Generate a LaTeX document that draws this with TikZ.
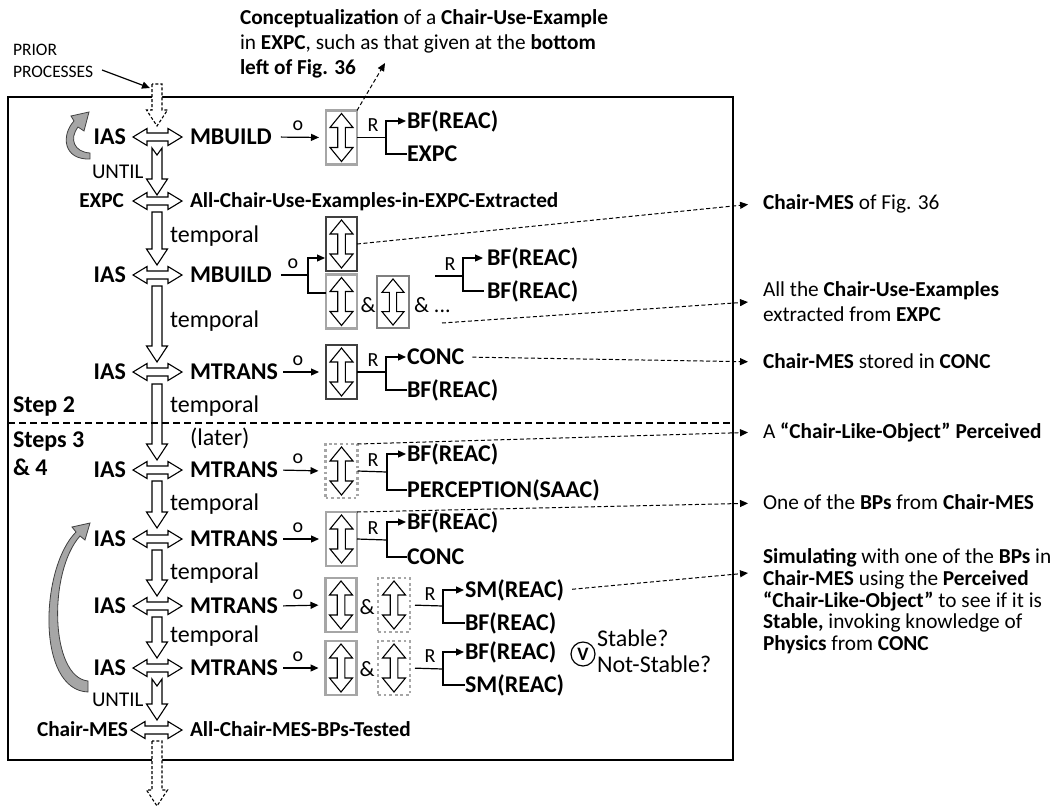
\documentclass[tikz,border=0pt]{standalone}
\usepackage{fontspec}
\setmainfont{Carlito}
\usetikzlibrary{arrows.meta,calc}
\definecolor{boxlight}{HTML}{A6A6A6}
\definecolor{boxdark}{HTML}{404040}
\definecolor{boxmid}{HTML}{7F7F7F}
\definecolor{curvefill}{HTML}{A6A6A6}
% horizontal double hollow arrow: x1, x2, y
\newcommand\hdarr[3]{\draw[hollow] (#1,#3) -- ({#1+14},{#3-8.5}) -- ({#1+14},{#3-4}) -- ({#2-14},{#3-4}) -- ({#2-14},{#3-8.5}) -- (#2,#3) -- ({#2-14},{#3+8.5}) -- ({#2-14},{#3+4}) -- ({#1+14},{#3+4}) -- ({#1+14},{#3+8.5}) -- cycle;}
% vertical hollow arrow: style, x, ytail, ytip
\newcommand\vsarr[4]{\draw[#1] ({#2-5},#3) -- ({#2-5},{#4-16}) -- ({#2-10.5},{#4-16}) -- (#2,#4) -- ({#2+10.5},{#4-16}) -- ({#2+5},{#4-16}) -- ({#2+5},#3) -- cycle;}
% notched vertical hollow arrow: x, ytail, ytip
\newcommand\vnarr[3]{\draw[hollow] ({#1-5},#2) -- ({#1-5},{#3-16}) -- ({#1-10.5},{#3-16}) -- (#1,#3) -- ({#1+10.5},{#3-16}) -- ({#1+5},{#3-16}) -- ({#1+5},#2) -- (#1,{#2+7}) -- cycle;}
\begin{document}
\begin{tikzpicture}[x=1pt,y=-1pt,
  every node/.style={inner sep=0pt,outer sep=0pt},
  >={Triangle[length=8pt,width=7pt]},
  fb/.style={font=\fontsize{24}{28}\selectfont\bfseries,text height=15.5pt,text depth=0pt},
  fr/.style={font=\fontsize{24}{28}\selectfont,text height=15.5pt,text depth=0pt},
  fmb/.style={font=\fontsize{21.3}{25}\selectfont\bfseries,text height=13.7pt,text depth=0pt},
  frt/.style={font=\fontsize{21.3}{25}\selectfont,text height=13.7pt,text depth=0pt},
  fm/.style={font=\fontsize{20}{24}\selectfont,text height=12.9pt,text depth=0pt},
  fu/.style={font=\fontsize{21}{24}\selectfont,text height=13.5pt,text depth=0pt},
  famp/.style={font=\fontsize{22}{26}\selectfont,text height=14.2pt,text depth=0pt},
  hollow/.style={draw=black,fill=white,line width=1.1pt,line join=miter},
  hollowdash/.style={hollow,dash pattern=on 3pt off 2pt},
  boxl/.style={draw=boxlight,line width=2.8pt,minimum width=31pt,minimum height=54pt},
  boxd/.style={draw=boxdark,line width=2.8pt,minimum width=31pt,minimum height=54pt},
  boxm/.style={draw=boxmid,line width=2.8pt,minimum width=32pt,minimum height=52pt},
  boxdot/.style={draw=boxlight,line width=2.8pt,dash pattern=on 2.8pt off 2.8pt,minimum width=32pt,minimum height=54pt},
  conn/.style={draw=black,line width=1.2pt},
  dconn/.style={draw=black,line width=1pt,dash pattern=on 4pt off 2.5pt},
  curved/.style={fill=curvefill,draw=boxdark,line width=0.8pt},
  boxarrow/.pic={\draw[hollow] (0,-24) -- (11.5,-10) -- (3.8,-10) -- (3.8,10) -- (11.5,10) -- (0,24) -- (-11.5,10) -- (-3.8,10) -- (-3.8,-10) -- (-11.5,-10) -- cycle;}
]
\useasboundingbox (0,0) rectangle (1057,807);
\draw[line width=1.3pt] (8,97) rectangle (733,760);
\coordinate (sepL) at (8,423);
\coordinate (sepR) at (733,423);

% ---- top annotations
\node[anchor=north west,align=left,font=\fontsize{17.5}{22}\selectfont] (prior) at (13,44.5) {PRIOR\\PROCESSES};
\node[anchor=north west,align=left,font=\fontsize{21.3}{25}\selectfont] (topT) at (240,10) {\textbf{Conceptualization} of a \textbf{Chair-Use-Example}\\in \textbf{EXPC}, such as that given at the \textbf{bottom}\\\textbf{left of Fig. 36}};
\coordinate (pSrc) at (102,70);
\coordinate (pTgt) at (150,88);
\draw[conn,->] (pSrc) -- (pTgt);

% ---- curved gray arrows
\draw[curved] (90,153) .. controls (74,152) and (69,139) .. (78,127) -- (84,131) -- (89,112) -- (71,116) -- (74,121) .. controls (61,135) and (63,160) .. (90,159) -- cycle;
\draw[curved] (88,681) .. controls (50,677) and (48,572) .. (80,536) -- (85,540) -- (90,523) -- (72,527) -- (76,532) .. controls (40,568) and (36,690) .. (88,692) -- cycle;

% ---- vertical hollow arrows
\vsarr{hollowdash}{157}{84}{126}
\vnarr{157}{148}{195}
\vsarr{hollow}{157}{212}{265}
\vsarr{hollow}{157}{286}{362}
\vsarr{hollow}{157}{384}{460}
\vsarr{hollow}{157}{481}{528}
\vsarr{hollow}{157}{550}{596}
\vsarr{hollow}{157}{617}{658}
\vnarr{157}{679}{720}
\vsarr{hollowdash}{157}{741}{806}

% ---- horizontal double arrows
\hdarr{133}{182}{137}
\hdarr{133}{182}{201}
\hdarr{133}{182}{275}
\hdarr{133}{182}{372}
\hdarr{133}{182}{470}
\hdarr{133}{182}{539}
\hdarr{133}{182}{606}
\hdarr{133}{182}{668}
\hdarr{131}{182}{730}

% ---- step separator
\draw[line width=1.2pt,dash pattern=on 7pt off 4pt] (sepL) -- (sepR);
\node[fb,anchor=west] (step2) at (13,405) {Step 2};
\node[fb,anchor=west] (step3) at (13,440) {Steps 3};
\node[fb,anchor=west] (step4) at (13,468) {\& 4};

% ---- labels on the main column
\node[fu,anchor=west] (until1) at (92,172) {UNTIL};
\node[fu,anchor=west] (until2) at (92,700) {UNTIL};
\node[fr,anchor=west] (tp1) at (170,235) {temporal};
\node[fr,anchor=west] (tp2) at (170,320) {temporal};
\node[fr,anchor=west] (tp3) at (170,405) {temporal};
\node[fr,anchor=west] (later) at (190,438) {(later)};
\node[fr,anchor=west] (tp4) at (170,503) {temporal};
\node[fr,anchor=west] (tp5) at (170,572) {temporal};
\node[fr,anchor=west] (tp6) at (170,635) {temporal};

% ---- row A
\node[fb,anchor=east] (iasA) at (126,137) {IAS};
\node[fb,anchor=west] (mbA) at (190,137) {MBUILD};
\node[boxl] (bA) at (341.5,137.5) {};
\pic at (bA) {boxarrow};
\draw[conn,->,shorten <=9pt,shorten >=7pt] (mbA.east) -- (bA.west);
\node[fm,anchor=base] (oA) at (298,130) {o};
\coordinate (fA) at (386,137.5);
\draw[conn] (bA.east) -- (fA);
\node[fb,anchor=west] (bfA) at (407,121) {BF(REAC)};
\node[fb,anchor=west] (exA) at (407,154) {EXPC};
\draw[conn,->,shorten >=1pt] (fA) |- (bfA.west);
\draw[conn] (fA) |- (exA.west);
\node[fm] (rA) at (373,125) {R};
\coordinate (tT) at (385,63);
\draw[dconn,->] (bA.north east) -- (tT);

% ---- row B
\node[fmb,anchor=east] (exB) at (124,201) {EXPC};
\node[fmb,anchor=west] (allB) at (190,201) {All-Chair-Use-Examples-in-EXPC-Extracted};

% ---- row C
\node[fb,anchor=east] (iasC) at (126,275) {IAS};
\node[fb,anchor=west] (mbC) at (190,275) {MBUILD};
\coordinate (oC) at (308,275);
\draw[conn,shorten <=9pt] (mbC.east) -- (oC);
\node[fm,anchor=base] (oCl) at (293,268) {o};
\node[boxd] (dbC) at (341.5,244) {};
\node[boxl] (lbC) at (341.5,301.5) {};
\node[boxm] (mbxC) at (393,302) {};
\pic at (dbC) {boxarrow};
\pic at (lbC) {boxarrow};
\pic[scale=0.96] at (mbxC) {boxarrow};
\draw[conn,->,shorten >=1pt] (oC) |- ($(dbC.west)+(0,14)$);
\draw[conn] (oC) |- ($(lbC.west)+(0,-8.5)$);
\node[famp] (ampC1) at (368,305) {\&};
\node[famp,anchor=west] (ampC2) at (414,305) {\& ...};
\coordinate (rCs) at (435,276);
\coordinate (fC) at (463,276);
\draw[conn] (rCs) -- (fC);
\node[fb,anchor=west] (bfC1) at (487,258) {BF(REAC)};
\node[fb,anchor=west] (bfC2) at (487,291) {BF(REAC)};
\draw[conn,->,shorten >=4pt] (fC) |- (bfC1.west);
\draw[conn,shorten >=3pt] (fC) |- (bfC2.west);
\node[fm] (rC) at (450,264) {R};

% ---- row D
\node[fb,anchor=east] (iasD) at (126,372) {IAS};
\node[fb,anchor=west] (mtD) at (190,372) {MTRANS};
\node[boxd] (dbD) at (341.5,372) {};
\pic at (dbD) {boxarrow};
\draw[conn,->,shorten <=5pt,shorten >=7pt] (mtD.east) -- (dbD.west);
\node[fm,anchor=base] (oD) at (298,365) {o};
\coordinate (fD) at (386,372);
\draw[conn] (dbD.east) -- (fD);
\node[fb,anchor=west] (concD) at (407,357) {CONC};
\node[fb,anchor=west] (bfD) at (407,390) {BF(REAC)};
\draw[conn,->,shorten >=1pt] (fD) |- (concD.west);
\draw[conn] (fD) |- (bfD.west);
\node[fm] (rD) at (373,360) {R};

% ---- row E
\node[fb,anchor=east] (iasE) at (126,470) {IAS};
\node[fb,anchor=west] (mtE) at (190,470) {MTRANS};
\node[boxdot] (dtE) at (341.5,471) {};
\pic at (dtE) {boxarrow};
\draw[conn,->,shorten <=5pt,shorten >=7pt] (mtE.east) -- (dtE.west);
\node[fm,anchor=base] (oE) at (298,463) {o};
\coordinate (fE) at (387,472);
\draw[conn] (dtE.east) -- (fE);
\node[fb,anchor=west] (bfE) at (407,454) {BF(REAC)};
\node[fb,anchor=west] (peE) at (407,490) {PERCEPTION(SAAC)};
\draw[conn,->,shorten >=1pt] (fE) |- (bfE.west);
\draw[conn] (fE) |- (peE.west);
\node[fm] (rE) at (373,460) {R};

% ---- row F
\node[fb,anchor=east] (iasF) at (126,539) {IAS};
\node[fb,anchor=west] (mtF) at (190,539) {MTRANS};
\node[boxl] (lbF) at (341.5,539) {};
\pic at (lbF) {boxarrow};
\draw[conn,->,shorten <=5pt,shorten >=7pt] (mtF.east) -- (lbF.west);
\node[fm,anchor=base] (oF) at (298,532) {o};
\coordinate (fF) at (387,540);
\draw[conn] (lbF.east) -- (fF);
\node[fb,anchor=west] (bfF) at (407,522) {BF(REAC)};
\node[fb,anchor=west] (concF) at (407,557) {CONC};
\draw[conn,->,shorten >=1pt] (fF) |- (bfF.west);
\draw[conn] (fF) |- (concF.west);
\node[fm] (rF) at (373,528) {R};

% ---- row G
\node[fb,anchor=east] (iasG) at (126,606) {IAS};
\node[fb,anchor=west] (mtG) at (190,606) {MTRANS};
\node[boxl] (lbG) at (341,605) {};
\node[boxdot] (dtG) at (394,605) {};
\pic at (lbG) {boxarrow};
\pic at (dtG) {boxarrow};
\draw[conn,->,shorten <=5pt,shorten >=7pt] (mtG.east) -- (lbG.west);
\node[fm,anchor=base] (oG) at (298,599) {o};
\node[famp] (ampG) at (367,607) {\&};
\coordinate (fG) at (443,606);
\draw[conn,shorten <=5pt] (dtG.east) -- (fG);
\node[fb,anchor=west] (smG) at (465,590) {SM(REAC)};
\node[fb,anchor=west] (bfG) at (465,623) {BF(REAC)};
\draw[conn,->,shorten >=1pt] (fG) |- (smG.west);
\draw[conn] (fG) |- (bfG.west);
\node[fm] (rG) at (430,594) {R};

% ---- row H
\node[fb,anchor=east] (iasH) at (126,668) {IAS};
\node[fb,anchor=west] (mtH) at (190,668) {MTRANS};
\node[boxl] (lbH) at (341,668) {};
\node[boxdot] (dtH) at (394,668) {};
\pic at (lbH) {boxarrow};
\pic at (dtH) {boxarrow};
\draw[conn,->,shorten <=5pt,shorten >=7pt] (mtH.east) -- (lbH.west);
\node[fm,anchor=base] (oH) at (298,661) {o};
\node[famp] (ampH) at (367,669) {\&};
\coordinate (fH) at (443,669);
\draw[conn,shorten <=5pt] (dtH.east) -- (fH);
\node[fb,anchor=west] (bfH) at (465,652) {BF(REAC)};
\node[fb,anchor=west] (smH) at (465,685) {SM(REAC)};
\draw[conn,->,shorten >=1pt] (fH) |- (bfH.west);
\draw[conn] (fH) |- (smH.west);
\node[fm] (rH) at (430,656) {R};
\node[circle,draw,line width=1.2pt,minimum size=24pt,font=\fontsize{19}{21}\selectfont\bfseries] (chk) at (583,654) {V};
\node[fr,anchor=west] (stab) at (597,639) {Stable?};
\node[fr,anchor=west] (nstab) at (597,665) {Not-Stable?};

% ---- row I
\node[fmb,anchor=east] (cmI) at (128,730) {Chair-MES};
\node[fmb,anchor=west] (allI) at (190,730) {All-Chair-MES-BPs-Tested};

% ---- right annotations
\node[frt,anchor=west] (rt1) at (763,203) {\textbf{Chair-MES} of Fig. 36};
\node[anchor=north west,align=left,font=\fontsize{21.3}{25}\selectfont] (rt2) at (763,282) {All the \textbf{Chair-Use-Examples}\\extracted from \textbf{EXPC}};
\node[frt,anchor=west] (rt3) at (763,362) {\textbf{Chair-MES} stored in \textbf{CONC}};
\node[frt,anchor=west] (rt4) at (763,432) {A \textbf{“Chair-Like-Object” Perceived}};
\node[frt,anchor=west] (rt5) at (763,503) {One of the \textbf{BPs} from \textbf{Chair-MES}};
\node[anchor=north west,align=left,font=\fontsize{21.3}{21.6}\selectfont] (rt6) at (763,549) {\textbf{Simulating} with one of the \textbf{BPs} in\\\textbf{Chair-MES} using the \textbf{Perceived}\\\textbf{“Chair-Like-Object”} to see if it is\\\textbf{Stable,} invoking knowledge of\\\textbf{Physics} from \textbf{CONC}};

% ---- dashed pointers
\coordinate (d3s) at (442,323);
\draw[dconn,->,shorten >=15pt] (dbC.east) -- (rt1.west);
\draw[dconn,->] (d3s) -- ($(rt2.west)+(-15,0)$);
\draw[dconn,->,shorten <=8pt,shorten >=15pt] (concD.east) -- (rt3.west);
\draw[dconn,->,shorten >=15pt] (dtE.north east) -- (rt4.west);
\draw[dconn,->,shorten >=15pt] (lbF.north east) -- (rt5.west);
\draw[dconn,->,shorten <=8pt] (smG.east) -- ($(rt6.north west)+(-15,24)$);
\end{tikzpicture}
\end{document}
